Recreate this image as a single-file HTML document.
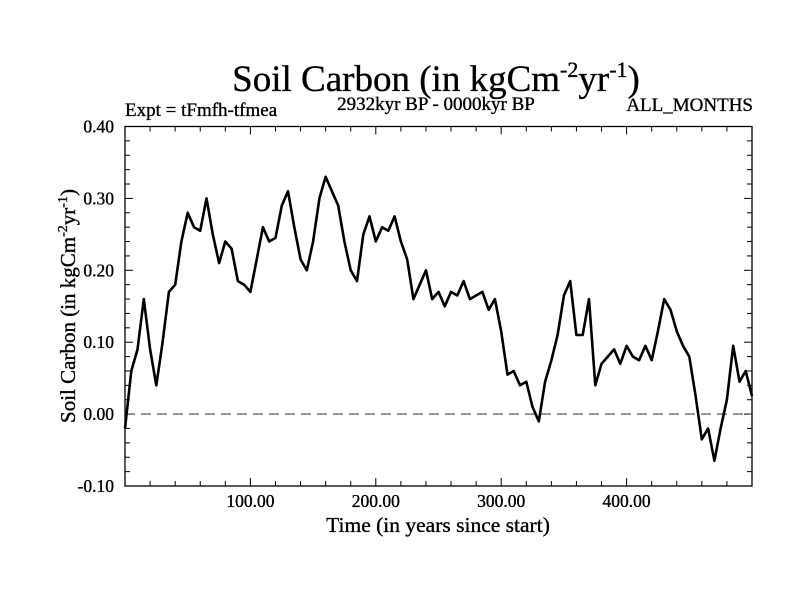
<!DOCTYPE html>
<html><head><meta charset="utf-8"><style>
body{margin:0;background:#fff}
svg text{font-family:"Liberation Serif",serif;fill:#000;stroke:#000;stroke-width:0.35}
</style></head><body>
<svg id="chart" width="800" height="600" viewBox="0 0 800 600" xmlns="http://www.w3.org/2000/svg">
<rect width="800" height="600" fill="#fff"/>
<text x="436" y="91" font-size="37" text-anchor="middle">Soil Carbon (in kgCm<tspan dy="-14" font-size="22">-2</tspan><tspan dy="14">yr</tspan><tspan dy="-14" font-size="22">-1</tspan><tspan dy="14">)</tspan></text>
<text x="436" y="110" font-size="19" text-anchor="middle">2932kyr BP - 0000kyr BP</text>
<text x="125" y="116" font-size="19">Expt = tFmfh-tfmea</text>
<text x="753" y="111" font-size="19" text-anchor="end">ALL_MONTHS</text>
<text x="438" y="532" font-size="21.5" text-anchor="middle">Time (in years since start)</text>
<text transform="translate(75,306) rotate(-90)" font-size="21" text-anchor="middle">Soil Carbon (in kgCm<tspan dy="-8" font-size="14">-2</tspan><tspan dy="8">yr</tspan><tspan dy="-8" font-size="14">-1</tspan><tspan dy="8">)</tspan></text>
<g id="ticks"></g>
<g id="plot"></g>
<rect x="125" y="126.5" width="627" height="359.5" fill="none" stroke="#000" stroke-width="1.3"/>
</svg>
<script>
const years=[0,5,10,15,20,25,30,35,40,45,50,55,60,65,70,75,80,85,90,95,100,105,110,115,120,125,130,135,140,145,150,155,160,165,170,175,180,185,190,195,200,205,210,215,220,225,230,235,240,245,250,255,260,265,270,275,280,285,290,295,300,305,310,315,320,325,330,335,340,345,350,355,360,365,370,375,380,385,390,395,400,405,410,415,420,425,430,435,440,445,450,455,460,465,470,475,480,485,490,495,500];
const soilCarbon=[-0.02,0.06,0.09,0.16,0.09,0.04,0.10,0.17,0.18,0.24,0.28,0.26,0.255,0.30,0.25,0.21,0.24,0.23,0.185,0.18,0.17,0.215,0.26,0.24,0.245,0.29,0.31,0.26,0.215,0.20,0.24,0.30,0.33,0.31,0.29,0.24,0.20,0.185,0.25,0.275,0.24,0.26,0.255,0.275,0.24,0.215,0.16,0.18,0.20,0.16,0.17,0.15,0.17,0.165,0.185,0.16,0.165,0.17,0.145,0.16,0.115,0.055,0.06,0.04,0.045,0.01,-0.01,0.045,0.075,0.11,0.165,0.185,0.11,0.11,0.16,0.04,0.07,0.08,0.09,0.07,0.095,0.08,0.075,0.095,0.075,0.115,0.16,0.145,0.115,0.095,0.08,0.025,-0.035,-0.02,-0.065,-0.02,0.02,0.095,0.045,0.06,0.025];
const yTicks=[-0.10,0.00,0.10,0.20,0.30,0.40];
const xTicks=[100,200,300,400];
const X0=125,X1=752,Y0=486,Y1=126.5,XMIN=0,XMAX=500,YMIN=-0.10,YMAX=0.40;
function xs(v){return X0+(v-XMIN)/(XMAX-XMIN)*(X1-X0);}
function ys(v){return Y0-(v-YMIN)/(YMAX-YMIN)*(Y0-Y1);}
const NS="http://www.w3.org/2000/svg";
const tg=document.getElementById('ticks'),pg=document.getElementById('plot');
function mk(tag,at,parent){const e=document.createElementNS(NS,tag);for(const k in at)e.setAttribute(k,at[k]);parent.appendChild(e);return e;}
for(let t=20;t<XMAX;t+=20){const x=xs(t);const major=t%100===0;const L=major?8:5;
 const a=mk('line',{x1:x,x2:x,y1:Y0,y2:Y0-L,stroke:'#000','stroke-width':1},tg);
 
 
 const b=mk('line',{x1:x,x2:x,y1:Y1,y2:Y1+L,stroke:'#000','stroke-width':1},tg);
 
 }
xTicks.forEach(v=>{const t=mk('text',{x:xs(v),y:507,'font-size':17.5,'text-anchor':'middle'},tg);t.textContent=v.toFixed(2);
 
 });
for(let i=1;i<25;i++){const v=YMIN+i*0.02;const y=ys(v);const major=i%5===0;const L=major?8:5;
 const a=mk('line',{x1:X0,x2:X0+L,y1:y,y2:y,stroke:'#000','stroke-width':1},tg);
 
 
 const b=mk('line',{x1:X1,x2:X1-L,y1:y,y2:y,stroke:'#000','stroke-width':1},tg);
 
 }
yTicks.forEach(v=>{const t=mk('text',{x:114,y:ys(v)+6,'font-size':17.5,'text-anchor':'end'},tg);t.textContent=v.toFixed(2);
 
 });
const z=mk('line',{x1:X0,x2:X1,y1:ys(0),y2:ys(0),stroke:'#808080','stroke-width':1.6,'stroke-dasharray':'10,6'},pg);


let d='';years.forEach((t,i)=>{d+=(i?'L':'M')+xs(t).toFixed(1)+','+ys(soilCarbon[i]).toFixed(1);});
const p=mk('path',{d:d,fill:'none',stroke:'#000','stroke-width':2.6,'stroke-linejoin':'round'},pg);


</script>
</body></html>
